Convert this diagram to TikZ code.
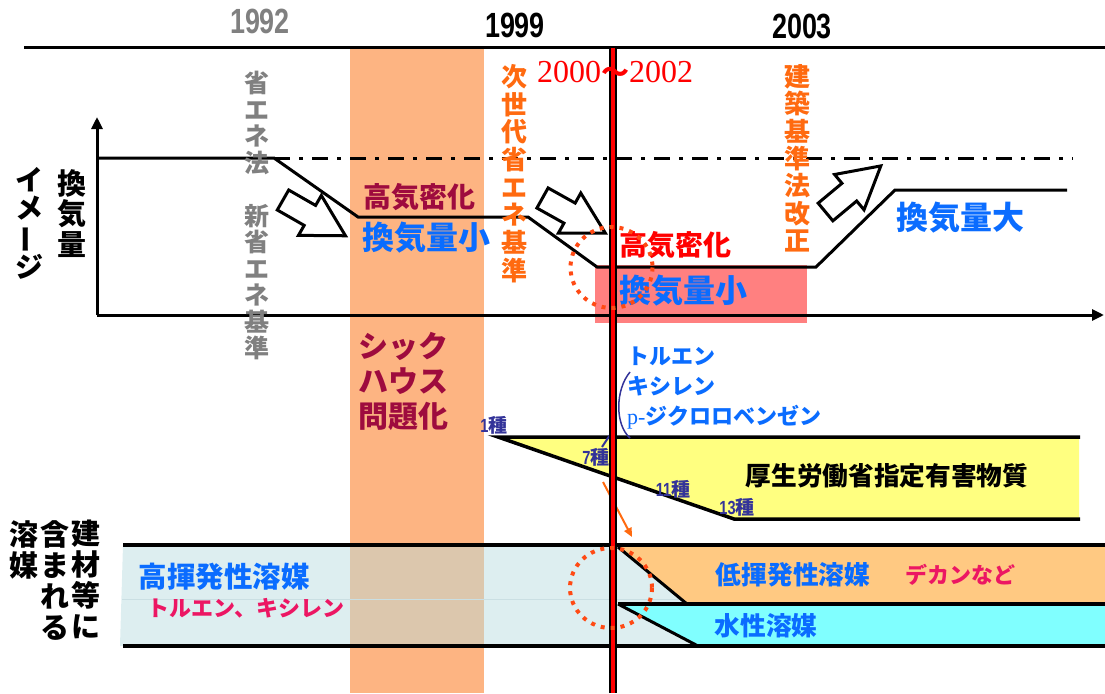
\documentclass[tikz,border=0pt]{standalone}
\usepackage{fontspec}
\setmainfont{Noto Sans CJK JP}
\newfontfamily\yr{Liberation Sans}[FakeStretch=0.77]
\newfontfamily\tm{Liberation Serif}
\usetikzlibrary{arrows.meta}
\definecolor{band}{HTML}{FDB482}
\definecolor{pinkbox}{HTML}{FF8080}
\definecolor{paleblue}{HTML}{DDEEF0}
\definecolor{paleline}{HTML}{CADFE3}
\definecolor{beige}{HTML}{DCC7AD}
\definecolor{lowvoc}{HTML}{FFC982}
\definecolor{cyanfill}{HTML}{80FFFF}
\definecolor{lemon}{HTML}{FFFF80}
\definecolor{maroon}{HTML}{9E0B3E}
\definecolor{bluetxt}{HTML}{0A6CFF}
\definecolor{orangetxt}{HTML}{FF6A10}
\definecolor{graytxt}{HTML}{808080}
\definecolor{navy}{HTML}{333399}
\definecolor{rose}{HTML}{EC1663}
\definecolor{ringc}{HTML}{FF4A14}
\begin{document}
\begin{tikzpicture}[x=1pt,y=-1pt,>={Triangle[length=12pt,width=11pt]},
sz/.style={inner sep=0pt,font=\bfseries\fontsize{#1}{#1}\selectfont},
vt/.style n args={2}{inner sep=0pt,anchor=north,align=center,font=\bfseries\fontsize{#1}{#2}\selectfont},
yrs/.style={inner sep=0pt,font=\yr\bfseries\fontsize{35}{35}\selectfont},
shu/.style={sz=19,text=navy},
dotring/.style={draw=ringc,line width=4,dash pattern=on 4 off 6},
hollow/.pic={\draw[line width=3,fill=white] (0,-11.5) -- (31,-11.5) -- (31,-23) -- (72,0) -- (31,23) -- (31,11.5) -- (0,11.5) -- cycle;}]
\useasboundingbox (0,0) rectangle (1105,693);
\fill[band] (350,48) rectangle (484,693);
\fill[pinkbox] (595,265) rectangle (807,323);
\fill[paleblue] (123,545) -- (1105,545) -- (1105,646) -- (120,646) -- cycle;
\fill[beige] (350,545) rectangle (484,646);
\draw[paleline,line width=1] (122,599) -- (1105,599);
\fill[lowvoc] (618,545) -- (1105,545) -- (1105,604) -- (687,604) -- cycle;
\fill[cyanfill] (618,604) -- (1105,604) -- (1105,646) -- (698,646) -- cycle;
\draw[line width=3.5] (123,545) -- (1105,545) (123,646) -- (1105,646) (618,604) -- (1105,604);
\draw[line width=3] (618,547) -- (687,604) (618,604) -- (698,646);
\fill[lemon] (498,437) -- (1079,437) -- (1079,519) -- (734,519) -- cycle;
\draw[line width=3.5] (1080,437) -- (498,437) -- (734,519) -- (1080,519);
\draw[line width=3] (24,48) -- (1105,48);
\draw[line width=3,->] (97,315) -- (97,117);
\draw[line width=3,->] (97,315) -- (1104,315);
\draw[line width=3] (97,158) -- (274,158) -- (358,217) -- (528,217) -- (597,267) -- (816,267) -- (895,190) -- (1067,190);
\draw[line width=3,dash pattern=on 16 off 9 on 4 off 9] (274,158) -- (1073,158);
\pic[rotate=-29.8] at (283,200) {hollow};
\pic[rotate=-29.2] at (542.5,198) {hollow};
\pic[rotate=39.8] at (825.5,212) {hollow};
\draw[navy,line width=1.5] (630,372) .. controls (615,390) and (615,425) .. (630,438);
\draw[navy,line width=2] (602,447) -- (612,432);
\draw[orangetxt,line width=2,-{Triangle[length=9pt,width=8pt]}] (603,482) -- (632,537);
\draw[line width=8] (613,48) -- (613,693);
\draw[red,line width=4.6] (613,48) -- (613,693);
\node[yrs,text=graytxt] (y1992) at (260,21) {1992};
\node[yrs] (y1999) at (515,25) {1999};
\node[yrs] (y2003) at (802,26) {2003};
\node[anchor=base,inner sep=0pt,text=red,font=\fontsize{32}{32}\selectfont] (span) at (615,82) {{\tm 2000}{\bfseries\fontsize{28}{28}\selectfont 〜}{\tm 2002}};
\node[vt={25}{26.5},text=graytxt] (shoene) at (257,71) {省\\エ\\ネ\\法\\　\\新\\省\\エ\\ネ\\基\\準};
\node[vt={26}{27.7},text=orangetxt] (jisedai) at (514,64) {次\\世\\代\\省\\エ\\ネ\\基\\準};
\node[vt={26}{27.4},text=orangetxt] (kenchiku) at (797,64) {建\\築\\基\\準\\法\\改\\正};
\node[vt={29}{30.7}] (kanki) at (72,169) {換\\気\\量};
\node[vt={28}{28}] (image) at (30,167) {イ\\メ\\\rotatebox[origin=c]{90}{ー}\\ジ};
\node[vt={29}{31}] (kenzai) at (86,520) {建\\材\\等\\に};
\node[vt={29}{31}] (fukumare) at (55,520) {含\\ま\\れ\\る};
\node[vt={29}{31}] (yobai) at (24,520) {溶\\媒};
\node[sz=28,text=maroon] (kimitsu1) at (419,197) {高気密化};
\node[sz=32,text=bluetxt] (shou1) at (426,238) {換気量小};
\node[sz=28,text=red] (kimitsu2) at (675,245) {高気密化};
\node[sz=32,text=bluetxt] (shou2) at (683,291) {換気量小};
\node[sz=32,text=bluetxt] (dai) at (960,218) {換気量大};
\node[inner sep=0pt,anchor=north west,align=left,text=maroon,font=\bfseries\fontsize{30}{35}\selectfont] (sick) at (358,332) {シック\\ハウス\\問題化};
\node[anchor=west,inner sep=0pt,align=left,text=bluetxt,font=\bfseries\fontsize{22}{30}\selectfont] (voc) at (627,388) {トルエン\\キシレン\\{\tm\mdseries p-}ジクロロベンゼン};
\node[shu] (s1) at (494,425) {{\yr 1}種};
\node[shu] (s7) at (596,457) {{\yr 7}種};
\node[shu] (s11) at (673,489) {{\yr 11}種};
\node[shu] (s13) at (737,507) {{\yr 13}種};
\node[sz=25.7] (mhlw) at (887,476) {厚生労働省指定有害物質};
\node[sz=28.5,text=bluetxt] (high) at (224,577) {高揮発性溶媒};
\node[sz=22,text=rose] (highex) at (246,608) {トルエン、キシレン};
\node[sz=25.7,text=bluetxt] (low) at (793,575) {低揮発性溶媒};
\node[sz=22,text=rose] (lowex) at (960,575) {デカンなど};
\node[sz=25.7,text=bluetxt] (aqua) at (766,626) {水性溶媒};
\draw[dotring] (611.5,267.5) ellipse[x radius=41,y radius=40.5];
\draw[dotring] (611,588) ellipse[x radius=41,y radius=40];
\end{tikzpicture}
\end{document}
